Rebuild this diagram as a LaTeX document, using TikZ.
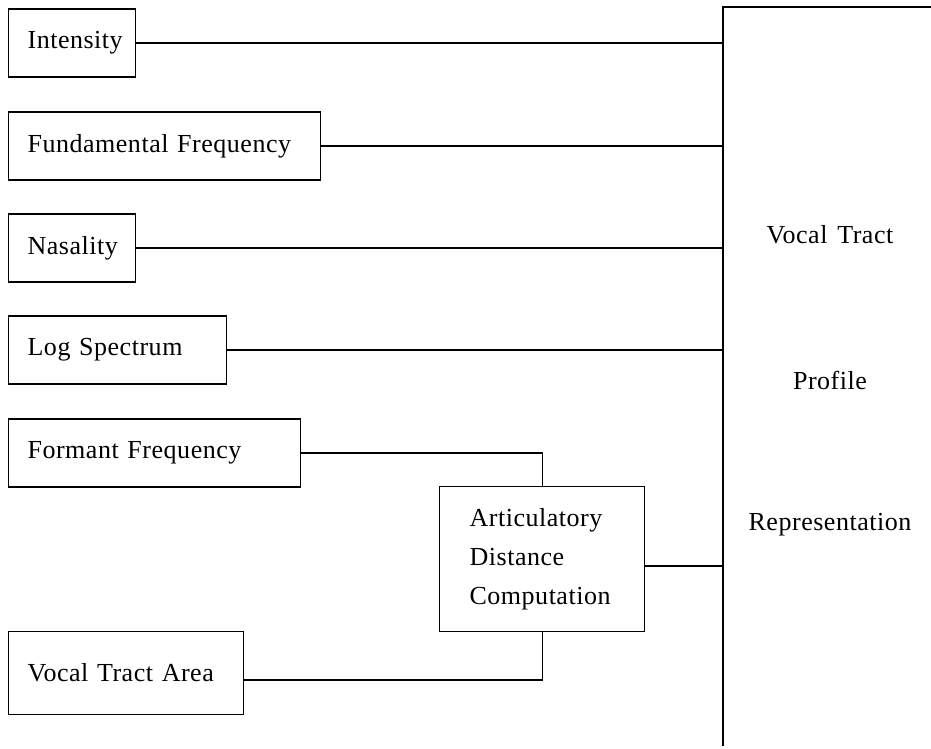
\documentclass[tikz,border=0pt]{standalone}
\usepackage{fontspec}
\setmainfont[LetterSpace=2,WordSpace=1.4]{Liberation Serif}
\usepackage{tikz}

\begin{document}
\begin{tikzpicture}[x=1pt,y=-1pt,
feature/.style={rectangle,draw,line width=1.2pt,minimum height=68pt,
inner xsep=19pt,inner ysep=0pt,text width=#1,align=left,anchor=west},
link/.style={line width=1.2pt},
every node/.style={font=\fontsize{26}{39}\selectfont}]
\useasboundingbox (0,0) rectangle (931,748);
\node[feature=89pt] (intensity) at (8,43) {Intensity};
\node[feature=274pt] (fundamental) at (8,146) {Fundamental Frequency};
\node[feature=89pt] (nasality) at (8,248) {Nasality};
\node[feature=180pt] (logspec) at (8,350) {Log Spectrum};
\node[feature=254pt] (formant) at (8,453) {Formant Frequency};
\node[feature=197pt,minimum height=83pt] (vtarea) at (8,673) {Vocal Tract Area};
\node[feature=145pt,inner xsep=30pt,minimum height=145pt] (adc) at (439,559)
  {Articulatory\\Distance\\Computation};
% profile block, cut at the right
\coordinate (vtp corner) at (931,7);
\coordinate (vtp top) at (723,7);
\coordinate (vtp bottom) at (723,746);
\draw[link] (vtp corner) -- (vtp top) -- (vtp bottom);
\node (vtlabel) at (830,235) {Vocal Tract};
\node (profile) at (830,380) {Profile};
\node (representation) at (830,525) {Representation};
\foreach \n in {intensity,fundamental,nasality,logspec}
  \draw[link] (\n.east) -- (\n.east -| vtp top);
\draw[link] (formant.east) -| (adc.north);
\draw[link] ([yshift=-7pt]vtarea.east) -| (adc.south);
\draw[link] ([yshift=-7pt]adc.east) -- ([yshift=-7pt]adc.east -| vtp top);
\end{tikzpicture}
\end{document}
